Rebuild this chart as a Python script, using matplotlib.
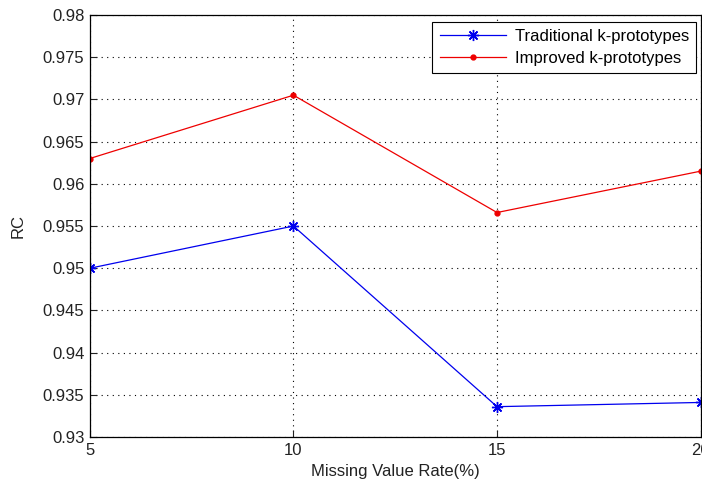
import matplotlib
matplotlib.use("Agg")
import matplotlib.pyplot as plt

plt.rcParams["font.family"] = ["Liberation Sans", "DejaVu Sans"]

rates = [5, 10, 15, 20]
traditional = [0.950, 0.955, 0.9336, 0.9341]
improved = [0.9630, 0.9705, 0.9566, 0.9615]

fig = plt.figure(figsize=(7.02, 4.84), dpi=100)
ax = fig.add_axes([0.128, 0.097, 0.870, 0.872])

ax.plot(rates, traditional, color="#0000ee", marker=(8, 2, 0), markersize=8,
        markeredgewidth=1.0, linewidth=0.9, label="Traditional k-prototypes")
ax.plot(rates, improved, color="#ee0000", marker=".", markersize=7,
        linewidth=0.9, label="Improved k-prototypes")

ax.set_xlim(5, 20)
ax.set_ylim(0.93, 0.98)
ax.set_xticks(rates)
ax.set_yticks([0.93, 0.935, 0.94, 0.945, 0.95, 0.955, 0.96, 0.965, 0.97, 0.975, 0.98])
ax.set_yticklabels(["0.93", "0.935", "0.94", "0.945", "0.95", "0.955", "0.96",
                    "0.965", "0.97", "0.975", "0.98"])
ax.tick_params(direction="in", labelsize=12, colors="#222222", length=5, pad=4)
ax.grid(True, linestyle=(0, (1, 4)), color="black", linewidth=0.8)
for s in ax.spines.values():
    s.set_linewidth(0.9)

ax.set_xlabel("Missing Value Rate(%)", fontsize=12, color="#222222")
ax.set_ylabel("RC", fontsize=12, color="#222222")
ax.xaxis.set_label_coords(0.5, -0.064)
ax.yaxis.set_label_coords(-0.105, 0.5)

leg = ax.legend(loc="upper right", fontsize=12, fancybox=False, framealpha=1,
                edgecolor="black", borderpad=0.45, handlelength=4,
                handletextpad=0.5, labelspacing=0.4, borderaxespad=0,
                bbox_to_anchor=(0.993, 0.984))
leg.get_frame().set_linewidth(0.8)

fig.savefig("out.png", dpi=100)
